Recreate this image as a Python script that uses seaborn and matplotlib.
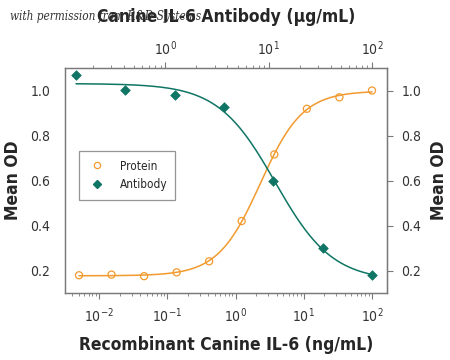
import numpy as np
import pandas as pd
import matplotlib
matplotlib.use("Agg")
import matplotlib.pyplot as plt
import matplotlib.ticker as mticker
from matplotlib.lines import Line2D
import seaborn as sns

# data
protein_conc = [0.00508, 0.0152, 0.0457, 0.137, 0.41, 1.23, 3.7, 11.1, 33.3, 100]   # ng/mL
protein_od = [0.179, 0.182, 0.175, 0.192, 0.241, 0.42, 0.716, 0.919, 0.97, 1.0]
antibody_conc = [0.137, 0.41, 1.23, 3.7, 11.1, 33.3, 100]   # ug/mL
antibody_od = [1.068, 1.001, 0.979, 0.926, 0.597, 0.301, 0.179]

orange = "#F29A2E"
teal = "#0F7564"
spine_col = "#7a7a7a"


def fpl(lx, p):
    bottom, top, logc, h = p
    return bottom + (top - bottom) / (1 + 10 ** ((lx - logc) * h))


def fit_4pl(x, y, p0):
    # small Levenberg-Marquardt fit in numpy
    lx = np.log10(np.asarray(x))
    y = np.asarray(y)
    p = np.array(p0, float)
    lam = 1e-2
    for _ in range(500):
        r = y - fpl(lx, p)
        J = np.empty((len(lx), 4))
        for i in range(4):
            dp = np.zeros(4)
            dp[i] = 1e-6
            J[:, i] = (fpl(lx, p + dp) - fpl(lx, p - dp)) / 2e-6
        A = J.T @ J
        step = np.linalg.solve(A + lam * np.diag(np.diag(A)), J.T @ r)
        pn = p + step
        if np.sum((y - fpl(lx, pn)) ** 2) < np.sum(r ** 2):
            p = pn
            lam *= 0.5
        else:
            lam *= 4
    return p


p_prot = fit_4pl(protein_conc, protein_od, [0.18, 1.0, 0.3, -1.2])
p_ab = fit_4pl(antibody_conc, antibody_od, [0.15, 1.03, 1.0, 1.2])

lx_p = np.linspace(np.log10(protein_conc[0]), np.log10(protein_conc[-1]), 300)
lx_a = np.linspace(np.log10(antibody_conc[0]), np.log10(antibody_conc[-1]), 300)
curve_p = pd.DataFrame({"x": 10 ** lx_p, "y": fpl(lx_p, p_prot)})
curve_a = pd.DataFrame({"x": 10 ** lx_a, "y": fpl(lx_a, p_ab)})

sns.set_style("white")
plt.rcParams["font.family"] = ["DejaVu Sans"]
plt.rcParams["font.stretch"] = "condensed"

fig = plt.figure(figsize=(4.5, 3.6), dpi=100)
ax = fig.add_axes([0.1444, 0.186, 0.7156, 0.625])
ax.set_xscale("log")
ax.set_xlim(10 ** -2.5, 10 ** 2.22)
ax.set_ylim(0.10, 1.10)

sns.lineplot(data=curve_p, x="x", y="y", ax=ax, color=orange, lw=1.1)
sns.scatterplot(x=protein_conc, y=protein_od, ax=ax, marker="o", s=26,
                facecolor="none", edgecolor=orange, linewidth=0.9, zorder=3)

ax_top = ax.twiny()
ax_top.set_xscale("log")
ax_top.set_xlim(10 ** -0.97, 10 ** 2.145)
sns.lineplot(data=curve_a, x="x", y="y", ax=ax_top, color=teal, lw=1.1)
sns.scatterplot(x=antibody_conc, y=antibody_od, ax=ax_top, marker="D", s=24,
                color=teal, edgecolor=teal, linewidth=0.5, zorder=3)

tick_col = "#333333"
for a in (ax, ax_top):
    for s in a.spines.values():
        s.set_color(spine_col)
        s.set_linewidth(0.9)
    a.tick_params(which="both", direction="out", color=spine_col, labelsize=10,
                  labelcolor=tick_col)
    a.tick_params(which="major", length=4.5)
    a.tick_params(which="minor", length=2.5)
    a.xaxis.set_minor_locator(mticker.LogLocator(base=10, subs=np.arange(2, 10)))
    a.set_xlabel("")
    a.set_ylabel("")

ax.set_yticks([0.2, 0.4, 0.6, 0.8, 1.0])
ax.set_yticklabels(["0.2", "0.4", "0.6", "0.8", "1.0"])
ax.tick_params(axis="y", which="minor", left=False)
ax.tick_params(axis="y", pad=6)
ax.set_xticks([1e-2, 1e-1, 1, 10, 100])
ax.tick_params(axis="x", pad=5)
ax_top.set_xticks([1, 10, 100])
ax_top.tick_params(axis="x", pad=3)
ax_top.tick_params(axis="y", right=False, left=False)

sec = ax.secondary_yaxis("right")
sec.set_yticks([0.2, 0.4, 0.6, 0.8, 1.0])
sec.set_yticklabels(["0.2", "0.4", "0.6", "0.8", "1.0"])
sec.spines["right"].set_color(spine_col)
sec.tick_params(direction="out", color=spine_col, length=4.5, labelsize=10,
                labelcolor=tick_col, pad=6)
sec.set_ylabel("Mean OD", fontsize=12.5, fontweight="bold", labelpad=6)

ax.set_ylabel("Mean OD", fontsize=12.5, fontweight="bold", labelpad=6)
ax.set_xlabel("Recombinant Canine IL-6 (ng/mL)", fontsize=12.5, fontweight="bold", labelpad=8)
ax_top.set_xlabel("Canine IL-6 Antibody (\u03bcg/mL)", fontsize=12.5, fontweight="bold", labelpad=12)

handles = [
    Line2D([], [], marker="o", ls="none", mfc="none", mec=orange, ms=4.5, mew=0.9, label="Protein"),
    Line2D([], [], marker="D", ls="none", mfc=teal, mec=teal, ms=4, label="Antibody"),
]
leg = ax_top.legend(handles=handles, loc="upper left", bbox_to_anchor=(0.045, 0.63),
                    frameon=True, fancybox=False, fontsize=8.5, handletextpad=1.2,
                    borderpad=0.7, labelspacing=0.5, borderaxespad=0, handlelength=1.5)
leg.get_frame().set_edgecolor(spine_col)
leg.get_frame().set_linewidth(0.9)

fig.text(0.022, 0.955, "with permission from R&D Systems", fontsize=8.5, style="italic",
         family="DejaVu Serif", color="#333333", va="center")

fig.savefig("out.png", dpi=100)
